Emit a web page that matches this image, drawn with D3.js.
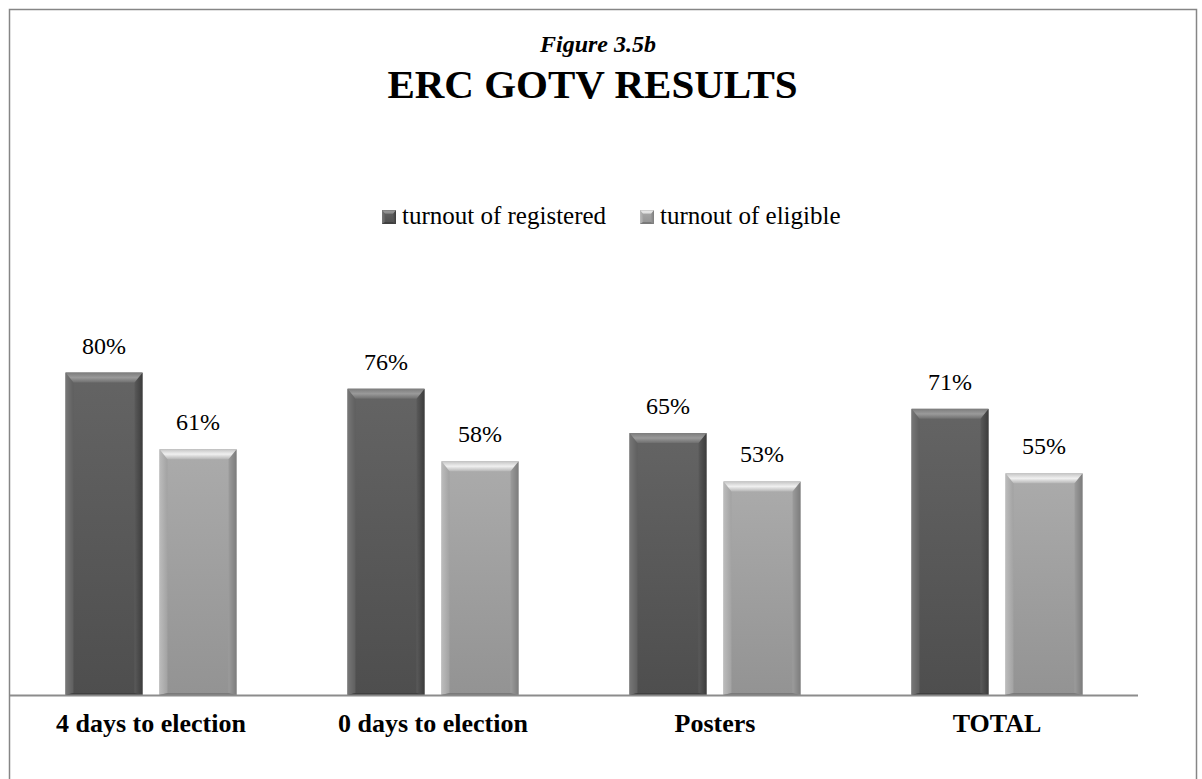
<!DOCTYPE html>
<html>
<head>
<meta charset="utf-8">
<script src="https://cdn.jsdelivr.net/npm/d3@7"></script>
<style>
  body { margin: 0; background: #fff; }
  text { font-family: 'Liberation Serif', 'DejaVu Serif', serif; fill: #000; }
</style>
</head>
<body>
<div id="chart"></div>
<script>
const categories = ['4 days to election', '0 days to election', 'Posters', 'TOTAL'];
const series = ['turnout of registered', 'turnout of eligible'];
const registered = [0.80, 0.76, 0.65, 0.71];
const eligible = [0.61, 0.58, 0.53, 0.55];

const width = 1202;
const height = 779;
const plot = { left: 10, right: 1138, top: 292, bottom: 695 };

// face gradient, top bevel gradient, left / right / bottom bevel colours
const seriesStyle = {
  'turnout of registered': {
    face: ['#646464', '#4e4e4e'],
    top: ['#7c7c7c', '#9a9a9a', '#6e6e6e'],
    left: ['#777777', '#5f5f5f'],
    right: ['#5a5a5a', '#3c3c3c'],
    bottom: '#404040',
  },
  'turnout of eligible': {
    face: ['#ababab', '#939393'],
    top: ['#c4c4c4', '#f0f0f0', '#b6b6b6'],
    left: ['#bcbcbc', '#a2a2a2'],
    right: ['#9c9c9c', '#7c7c7c'],
    bottom: '#7a7a7a',
  },
};

const svg = d3.select('#chart').append('svg')
  .attr('width', width)
  .attr('height', height);

const defs = svg.append('defs');
function grad(id, stops, horizontal) {
  const g = defs.append('linearGradient').attr('id', id)
    .attr('x1', 0).attr('y1', 0)
    .attr('x2', horizontal ? 1 : 0).attr('y2', horizontal ? 0 : 1);
  stops.forEach((c, k) => {
    g.append('stop').attr('offset', `${(k / (stops.length - 1)) * 100}%`).attr('stop-color', c);
  });
}
series.forEach((s, i) => {
  const st = seriesStyle[s];
  grad(`face-${i}`, st.face, false);
  grad(`top-${i}`, st.top, false);
  grad(`left-${i}`, st.left, true);
  grad(`right-${i}`, st.right, true);
});

// outer frame
svg.append('rect')
  .attr('x', 9.5).attr('y', 9.5)
  .attr('width', 1187).attr('height', 800)
  .attr('fill', 'none')
  .attr('stroke', '#868686')
  .attr('stroke-width', 1.5);

// titles
svg.append('text')
  .attr('x', 598).attr('y', 52)
  .attr('text-anchor', 'middle')
  .style('font-size', '24px')
  .style('font-style', 'italic')
  .style('font-weight', 'bold')
  .text('Figure 3.5b');

svg.append('text')
  .attr('x', 592.5).attr('y', 98)
  .attr('text-anchor', 'middle')
  .style('font-size', '41px')
  .style('font-weight', 'bold')
  .text('ERC GOTV RESULTS');

const x0 = d3.scaleBand().domain(categories).range([plot.left, plot.right]);
const groupW = 171;
const x1 = d3.scaleBand().domain(series).range([0, groupW]).paddingInner(0.181);
const y = d3.scaleLinear().domain([0, 1]).range([plot.bottom, plot.top]);

const rows = categories.map((c, i) => ({ cat: c, values: [registered[i], eligible[i]] }));

function bevelBar(g, x, y0, w, h, si, bev) {
  const st = seriesStyle[series[si]];
  const b = Math.min(bev, h / 2);
  const s = Math.min(b * 0.8, w / 4);
  const x2 = x + w, y2 = y0 + h;
  g.append('rect').attr('x', x).attr('y', y0).attr('width', w).attr('height', h)
    .attr('fill', `url(#face-${si})`);
  g.append('path')
    .attr('d', `M${x},${y0}L${x + s},${y0 + b}L${x + s},${y2 - 2}L${x},${y2}Z`)
    .attr('fill', `url(#left-${si})`);
  g.append('path')
    .attr('d', `M${x2},${y0}L${x2 - s},${y0 + b}L${x2 - s},${y2 - 2}L${x2},${y2}Z`)
    .attr('fill', `url(#right-${si})`);
  g.append('path')
    .attr('d', `M${x},${y2}L${x + s},${y2 - 2}L${x2 - s},${y2 - 2}L${x2},${y2}Z`)
    .attr('fill', st.bottom);
  g.append('path')
    .attr('d', `M${x},${y0}L${x2},${y0}L${x2 - s},${y0 + b}L${x + s},${y0 + b}Z`)
    .attr('fill', `url(#top-${si})`);
}

const groups = svg.append('g').selectAll('g')
  .data(rows)
  .join('g')
  .attr('transform', (d) => `translate(${x0(d.cat) + (x0.bandwidth() - groupW) / 2},0)`);

groups.each(function (d) {
  const g = d3.select(this);
  d.values.forEach((v, si) => {
    const bx = x1(series[si]);
    bevelBar(g, bx, y(v), x1.bandwidth(), y(0) - y(v), si, 10);
    g.append('text')
      .attr('x', bx + x1.bandwidth() / 2)
      .attr('y', y(v) - 19)
      .attr('text-anchor', 'middle')
      .style('font-size', '24px')
      .text(d3.format('.0%')(v));
  });
});

// axis
svg.append('line')
  .attr('x1', plot.left).attr('x2', plot.right)
  .attr('y1', plot.bottom + 0.5).attr('y2', plot.bottom + 0.5)
  .attr('stroke', '#8c8c8c').attr('stroke-width', 2);

svg.append('g').selectAll('text')
  .data(categories)
  .join('text')
  .attr('x', (d) => x0(d) + x0.bandwidth() / 2)
  .attr('y', 732)
  .attr('text-anchor', 'middle')
  .style('font-size', '26px')
  .style('font-weight', 'bold')
  .text((d) => d);

// legend
const legendPos = [382, 640];
const legend = svg.append('g').selectAll('g')
  .data(series)
  .join('g')
  .attr('transform', (d, i) => `translate(${legendPos[i]},210)`);
legend.each(function (d, i) {
  bevelBar(d3.select(this), 0, 0, 14, 14, i, 4);
});
legend.append('text')
  .attr('x', 20).attr('y', 14)
  .style('font-size', '25px')
  .text((d) => d);
</script>
</body>
</html>
